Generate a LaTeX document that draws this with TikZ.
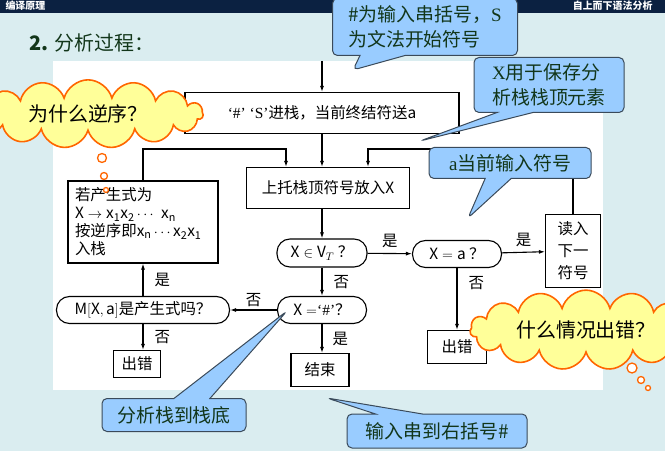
\documentclass[tikz,border=0pt]{standalone}
\usepackage{fontspec}
\setmainfont{Noto Sans CJK SC}
\newfontfamily\lat{Liberation Serif}
\usetikzlibrary{arrows.meta,positioning,shapes.callouts,shapes.symbols}
\definecolor{slidebg}{HTML}{DAEDF0}
\definecolor{barnavy}{HTML}{0B2141}
\definecolor{notefill}{HTML}{99CCFF}
\definecolor{noteline}{HTML}{3A4A5A}
\definecolor{notetext}{HTML}{12361A}
\definecolor{cloudfill}{HTML}{FFFF99}
\definecolor{cloudline}{HTML}{FF6600}

\begin{document}
\begin{tikzpicture}[x=1bp,y=-1bp,>={Latex[length=6bp,width=4bp]},
 every node/.style={font=\fontsize{15.5}{18}\selectfont},
 box/.style={draw,line width=1.1bp,fill=white,align=center,inner sep=0pt},
 test/.style={box,rounded corners=13bp},
 arr/.style={->,line width=1.1bp},
 lab/.style={inner sep=2bp},
 note/.style={rectangle callout,draw=noteline,line width=1bp,fill=notefill,
  rounded corners=5bp,text=notetext,align=left,inner sep=0pt,
  font=\fontsize{19}{25}\selectfont},
 think/.style={cloud,cloud puffs=15,aspect=4,draw=cloudline,line width=1.6bp,
  fill=cloudfill,inner sep=0pt,font=\fontsize{20}{20}\selectfont},
 bubble/.style={draw=cloudline,line width=1.3bp,fill=white}]
\useasboundingbox (0,0) rectangle (665,451);
% slide
\fill[slidebg] (0,0) rectangle (665,451);
\fill[barnavy] (0,0) rectangle (665,13);
\node[anchor=base west,text=white,font=\fontsize{10}{10}\selectfont\bfseries] (course) at (2,10) {编译原理};
\node[anchor=base east,text=white,font=\fontsize{10}{10}\selectfont\bfseries] (chapter) at (656,10) {自上而下语法分析};
\node[anchor=west,text=notetext,font=\fontsize{20}{20}\selectfont] (title) at (26,43) {\textbf{2.} 分析过程：};
\fill[white] (53,61) rectangle (603,390);
% flowchart
\coordinate (entry) at (322,61);
\node[box,minimum width=274bp,minimum height=41bp] (push) at (322,113) {{\lat ‘\#’ ‘S’}进栈，当前终结符送$\mathrm{a}$};
\node[box,minimum width=163bp,minimum height=41bp] (pop) at (328,188) {上托栈顶符号放入$\mathrm{X}$};
\node[box,minimum width=150bp,minimum height=82bp,align=left,text width=136bp] (expand) at (143,222) {若产生式为\\ $\mathrm{X\to x_1x_2\cdots\ x_n}$\\ 按逆序即$\mathrm{x_n\cdots x_2x_1}$\\ 入栈};
\node[test,minimum width=90bp,minimum height=28bp] (isT) at (322,253) {$\mathrm{X}\in\mathrm{V}_T$ ？};
\node[test,minimum width=89bp,minimum height=27bp] (isA) at (457,254) {$\mathrm{X=a}$ ？};
\node[box,minimum width=55bp,minimum height=73bp,font=\fontsize{15.5}{22}\selectfont] (read) at (573,251) {读入\\下一\\符号};
\node[box,minimum width=59bp,minimum height=33bp] (errA) at (457,347) {出错};
\node[test,minimum width=89bp,minimum height=27bp] (isEnd) at (322,310) {$\mathrm{X}=${\lat ‘\#’}？};
\node[box,minimum width=58bp,minimum height=33bp] (stop) at (320,370) {结束};
\node[test,minimum width=173bp,minimum height=27bp] (isProd) at (143,310) {$\mathrm{M[X,a]}$是产生式吗？};
\node[box,minimum width=47bp,minimum height=27bp] (errB) at (137,364) {出错};
\coordinate (joinL) at (286,149);
\coordinate (joinR) at (368,149);
\draw[arr] (entry) -- (push);
\draw[arr] (push.south) -- (push.south |- pop.north);
\draw[arr] (expand.north) |- (joinL) -- (joinL |- pop.north);
\draw[arr] (read.north) |- (joinR) -- (joinR |- pop.north);
\draw[arr] (isT |- pop.south) -- (isT);
\draw[arr] (isT) -- node[lab,above=3bp]{是} (isA);
\draw[arr] (isA) -- node[lab,above=3bp]{是} (read);
\draw[arr] (isA) -- node[lab,right=9bp,pos=.25]{否} (errA);
\draw[arr] (isT) -- node[lab,right=9bp]{否} (isEnd);
\draw[arr] (isEnd.south) -- node[lab,right=8bp]{是} (isEnd.south |- stop.north);
\draw[arr] (isEnd) -- node[lab,above=1bp]{否} (isProd);
\draw[arr] (isProd) -- node[lab,right=9bp]{是} (expand);
\draw[arr] (isProd.south) -- node[lab,right=9bp]{否} (isProd.south |- errB.north);
% callouts
\coordinate (tipHash) at (353,70);
\coordinate (tipX) at (420,141);
\coordinate (tipA) at (468,218);
\coordinate (tipBottom) at (287,311);
\coordinate (tipRight) at (327,398);
\node[note,callout absolute pointer=(tipHash),callout pointer width=45bp,minimum width=185bp,minimum height=57bp] (noteHash) at (425,27) {\#为输入串括号，{\lat S}\\为文法开始符号};
\node[note,callout absolute pointer=(tipX),callout pointer width=36bp,minimum width=150bp,minimum height=55bp] (noteX) at (549,85) {{\lat X}用于保存分\\析栈栈顶元素};
\node[note,callout absolute pointer=(tipA),callout pointer width=26bp,minimum width=162bp,minimum height=31bp] (noteA) at (510,163) {{\lat a}当前输入符号};
\node[note,callout absolute pointer=(tipBottom),callout pointer width=36bp,minimum width=144bp,minimum height=33bp] (noteBottom) at (174,415) {分析栈到栈底};
\node[note,callout absolute pointer=(tipRight),callout pointer width=47bp,minimum width=180bp,minimum height=34bp] (noteRight) at (437,431) {输入串到右括号\#};
% thought clouds
\node[think,minimum width=230bp,minimum height=58bp] (whyRev) at (88,114) {为什么逆序？};
\node[think,minimum width=232bp,minimum height=56bp] (whenErr) at (586,330) {什么情况出错？};
\foreach \cx/\cy/\r in {102/158/4.5,104/176/3.5,106/190/2.5,632/368/5,641/380/3.5,648/388/2.5}
 \draw[bubble] (\cx,\cy) circle[radius=\r];
\end{tikzpicture}
\end{document}
